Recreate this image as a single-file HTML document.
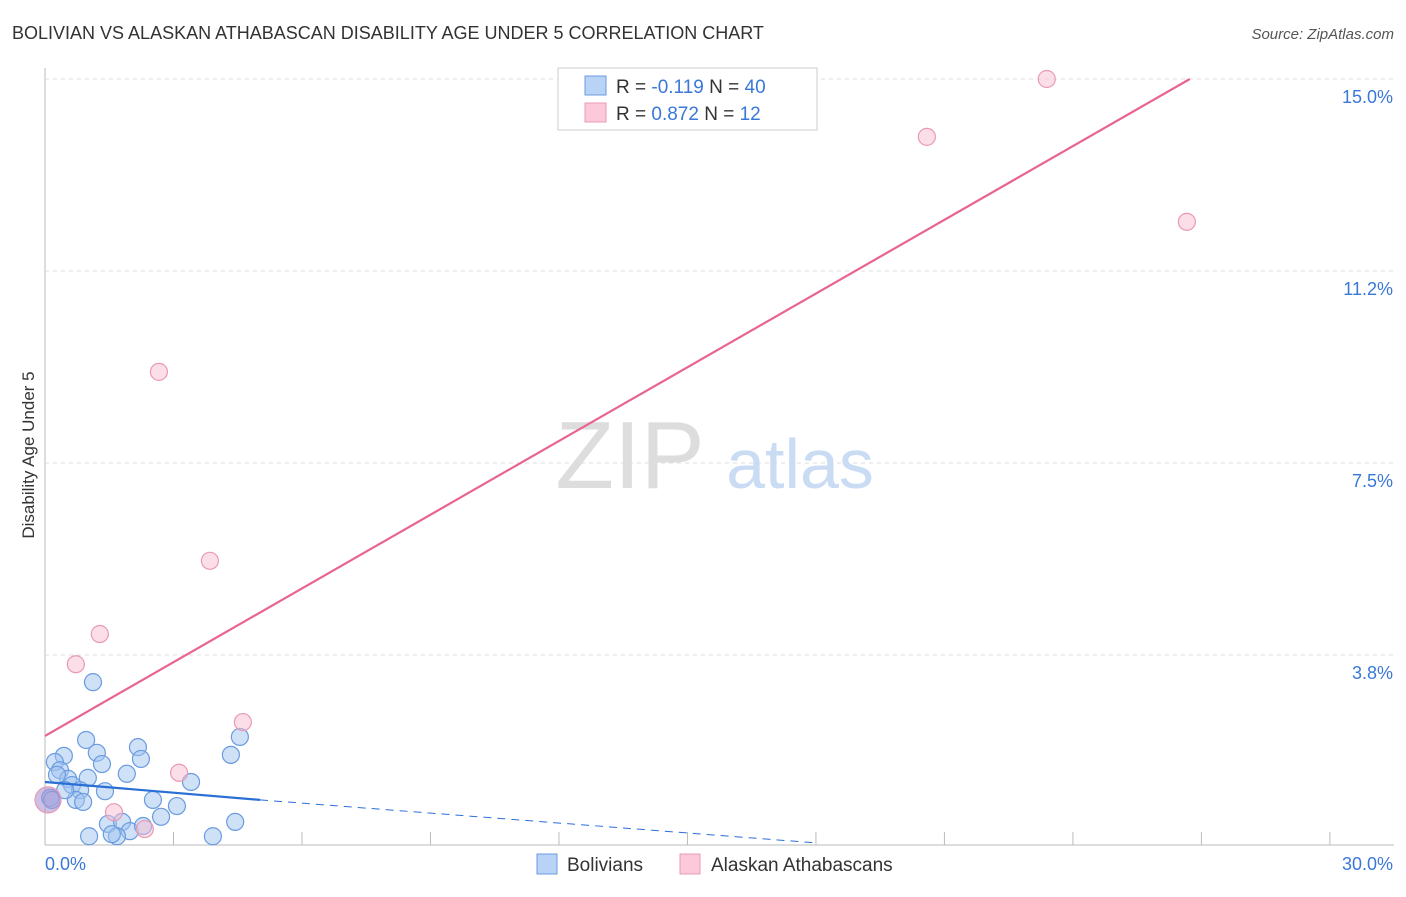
<!DOCTYPE html>
<html><head><meta charset="utf-8"><style>
body{margin:0;background:#fff;font-family:"Liberation Sans",sans-serif}
svg text{font-family:"Liberation Sans",sans-serif}
</style></head><body>
<svg width="1406" height="892">
<text x="12" y="39" font-size="18" fill="#333">BOLIVIAN VS ALASKAN ATHABASCAN DISABILITY AGE UNDER 5 CORRELATION CHART</text>
<text x="1394" y="39" font-size="15" fill="#555" text-anchor="end" font-style="italic">Source: ZipAtlas.com</text>
<g id="grid"></g>
<text x="630" y="488" font-size="96" fill="#ddd" font-family="Liberation Serif" text-anchor="middle">ZIP</text>
<text x="800" y="488" font-size="70" fill="#c9dcf3" text-anchor="middle">atlas</text>
<text transform="translate(34,455) rotate(-90)" font-size="17" fill="#333" text-anchor="middle">Disability Age Under 5</text>
<g id="marks"></g>
<rect x="558" y="68" width="259" height="62" fill="#fff" stroke="#ccc"/>
<rect x="585" y="76" width="21" height="19" fill="#b8d3f5" stroke="#6a9be0"/>
<rect x="585" y="103" width="21" height="19" fill="#fbc9d9" stroke="#e89ab5"/>
<text x="616" y="93" font-size="19" fill="#333">R = <tspan fill="#3a78d8">-0.119</tspan>   N = <tspan fill="#3a78d8">40</tspan></text>
<text x="616" y="120" font-size="19" fill="#333">R =  <tspan fill="#3a78d8">0.872</tspan>   N =  <tspan fill="#3a78d8">12</tspan></text>
<rect x="537" y="854" width="20" height="20" fill="#b8d3f5" stroke="#6a9be0"/>
<text x="567" y="871" font-size="19" fill="#333">Bolivians</text>
<rect x="680" y="854" width="20" height="20" fill="#fbc9d9" stroke="#e89ab5"/>
<text x="711" y="871" font-size="19" fill="#333">Alaskan Athabascans</text>
</svg>
<script>
const yTicks=[3.75,7.5,11.25,15];
const yTickLabels=["3.8%","7.5%","11.2%","15.0%"];
const xTickLabels=["0.0%","30.0%"];
const blueX=[1.12,0.96,1.21,0.44,0.23,0.35,1.33,1.00,0.54,0.63,0.82,1.40,0.72,0.89,0.12,1.91,2.17,2.24,2.52,2.71,3.08,3.41,4.34,4.55,4.44,3.92,1.03,1.47,1.80,1.98,2.29,1.68,1.56,0.16,0.28,0.47];
const blueY=[3.22,2.09,1.84,1.78,1.66,1.50,1.62,1.35,1.33,1.21,1.11,1.09,0.92,0.88,0.96,1.43,1.95,1.72,0.92,0.59,0.80,1.27,1.80,2.15,0.49,0.21,0.21,0.45,0.49,0.31,0.41,0.21,0.25,0.92,1.41,1.11];
const pinkX=[23.39,20.59,26.66,2.66,3.85,1.28,0.72,4.62,3.13,1.61,2.33,0.07];
const pinkY=[15.0,13.87,12.21,9.28,5.59,4.16,3.57,2.44,1.45,0.68,0.35,0.92];
const pinkLine=[[0,2.17],[26.73,15.0]];
const blueLine=[[0,1.27],[5.02,0.92]];
const blueDash=[[5.02,0.92],[18.0,0.08]];
const X=v=>45+v*42.83, Y=v=>847-v*51.2;
const NS="http://www.w3.org/2000/svg";
const grid=document.getElementById('grid'), marks=document.getElementById('marks'), svg=document.querySelector('svg');
function mk(tag,a,p){const e=document.createElementNS(NS,tag);for(const k in a)e.setAttribute(k,a[k]);(p||marks).appendChild(e);return e;}
let e=mk('line',{x1:45,y1:68,x2:45,y2:845,stroke:'#bbb'},grid);


e=mk('line',{x1:45,y1:845,x2:1394,y2:845,stroke:'#bbb'},grid);


for(let i=1;i<=10;i++){e=mk('line',{x1:X(i*3),y1:832,x2:X(i*3),y2:845,stroke:'#bbb'},grid);

}
yTicks.forEach((t,i)=>{e=mk('line',{x1:45,y1:Y(t),x2:1394,y2:Y(t),stroke:'#ddd','stroke-dasharray':'4,4'},grid);


e=mk('text',{x:1393,y:Y(t)+24,'font-size':18,fill:'#3a78d8','text-anchor':'end'},grid);e.textContent=yTickLabels[i];

});
e=mk('text',{x:45,y:870,'font-size':18,fill:'#3a78d8'},grid);e.textContent=xTickLabels[0];


e=mk('text',{x:1393,y:870,'font-size':18,fill:'#3a78d8','text-anchor':'end'},grid);e.textContent=xTickLabels[1];


blueX.forEach((x,i)=>{e=mk('circle',{cx:X(x),cy:Y(blueY[i]),r:8.5,fill:'rgba(160,196,240,0.5)',stroke:'#6a9be0','stroke-width':1.2});

});
pinkX.forEach((x,i)=>{e=mk('circle',{cx:X(x),cy:Y(pinkY[i]),r:i==11?13:8.5,fill:i==11?'rgba(170,150,210,0.6)':'rgba(248,190,210,0.5)',stroke:'#e89ab5','stroke-width':1.2});

});
e=mk('line',{x1:X(pinkLine[0][0]),y1:Y(pinkLine[0][1]),x2:X(pinkLine[1][0]),y2:Y(pinkLine[1][1]),stroke:'#e8648f','stroke-width':2.2});


e=mk('line',{x1:X(blueLine[0][0]),y1:Y(blueLine[0][1]),x2:X(blueLine[1][0]),y2:Y(blueLine[1][1]),stroke:'#2a6fd6','stroke-width':2.2});


e=mk('line',{x1:X(blueDash[0][0]),y1:Y(blueDash[0][1]),x2:X(blueDash[1][0]),y2:Y(blueDash[1][1]),stroke:'#2a6fd6','stroke-width':1,'stroke-dasharray':'8,6'});


</script>
</body></html>
